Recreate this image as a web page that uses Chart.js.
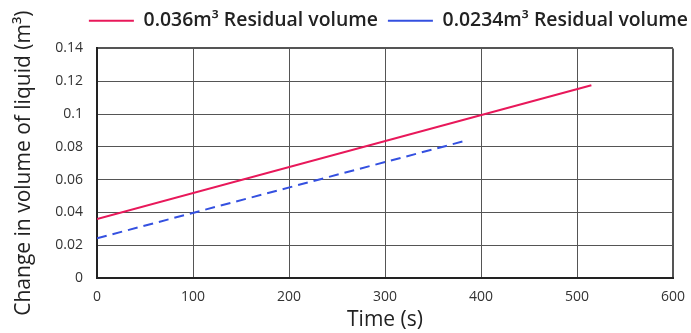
<!DOCTYPE html>
<html>
<head>
<meta charset="utf-8">
<script src="https://cdn.jsdelivr.net/npm/chart.js@4.4.1/dist/chart.umd.min.js"></script>
<style>
  html, body { margin: 0; padding: 0; background: #fff; }
  #wrap { width: 691px; height: 333px; }
</style>
</head>
<body>
<div id="wrap"><canvas id="c" width="691" height="333"></canvas></div>
<script>
// Residual-volume runs: time (s) vs. change in liquid volume (m³)
const seriesLabels = ['0.036m³ Residual volume', '0.0234m³ Residual volume'];
const timeA = [0, 515];
const volumeA = [0.036, 0.1175];
const timeB = [0, 382];
const volumeB = [0.0242, 0.0834];
const xTicks = [0, 100, 200, 300, 400, 500, 600];
const yTicks = [0, 0.02, 0.04, 0.06, 0.08, 0.1, 0.12, 0.14];

const FONT = 'Open Sans, Lato, sans-serif';
const toPoints = (xs, ys) => xs.map((x, i) => ({ x, y: ys[i] }));

// legend row: a little extra room below it, nudged toward the right edge
const legendTweak = {
  id: 'legendTweak',
  afterInit(chart) {
    const lg = chart.legend;
    if (!lg) return;
    const fit = lg.fit.bind(lg);
    lg.fit = function () { fit(); this.height += 9; };
    const draw = lg.draw.bind(lg);
    lg.draw = function () {
      const ctx = this.ctx;
      ctx.save();
      ctx.translate(7, 1);
      draw();
      ctx.restore();
    };
  }
};

new Chart(document.getElementById('c'), {
  type: 'line',
  data: {
    datasets: [
      {
        label: seriesLabels[0],
        data: toPoints(timeA, volumeA),
        borderColor: '#e8185a',
        borderWidth: 2,
        pointRadius: 0,
        pointStyle: 'line',
        tension: 0
      },
      {
        label: seriesLabels[1],
        data: toPoints(timeB, volumeB),
        borderColor: '#3450e0',
        borderWidth: 2,
        borderDash: [10, 6],
        pointRadius: 0,
        pointStyle: 'line',
        tension: 0
      }
    ]
  },
  options: {
    responsive: false,
    animation: false,
    layout: { padding: 0 },
    plugins: {
      tooltip: { enabled: false },
      legend: {
        position: 'top',
        align: 'end',
        labels: {
          usePointStyle: true,
          pointStyleWidth: 45,
          boxHeight: 2,
          padding: 10,
          color: '#222',
          font: { family: FONT, size: 19.4, weight: '600' }
        }
      }
    },
    scales: {
      x: {
        type: 'linear',
        min: 0,
        max: 600,
        afterBuildTicks: s => { s.ticks = xTicks.map(v => ({ value: v })); },
        afterFit: s => { s.height = 55; s.paddingLeft = 0; s.paddingRight = 18; },
        ticks: { color: '#333', font: { family: FONT, size: 14 }, padding: 11, maxRotation: 0 },
        grid: {
          drawTicks: false,
          color: '#555',
          lineWidth: ctx => (ctx.tick && ctx.tick.value === 600 ? 2 : 1)
        },
        border: { display: true, color: '#222', width: 2 },
        title: { display: true, text: 'Time (s)', color: '#222', font: { family: FONT, size: 21 }, padding: { top: 0, bottom: 0 } }
      },
      y: {
        type: 'linear',
        min: 0,
        max: 0.14,
        afterBuildTicks: s => { s.ticks = yTicks.map(v => ({ value: v })); },
        afterFit: s => { s.width = 97; },
        ticks: {
          color: '#333',
          font: { family: FONT, size: 14 },
          padding: 14,
          callback: v => String(Number(v.toFixed(2)))
        },
        grid: {
          drawTicks: false,
          color: '#555',
          lineWidth: ctx => (ctx.tick && ctx.tick.value === 0.14 ? 2 : 1)
        },
        border: { display: true, color: '#222', width: 2 },
        title: { display: true, text: 'Change in volume of liquid (m³)', color: '#222', font: { family: FONT, size: 21 }, padding: { top: 11, bottom: 0 } }
      }
    }
  },
  plugins: [legendTweak]
});
</script>
</body>
</html>
